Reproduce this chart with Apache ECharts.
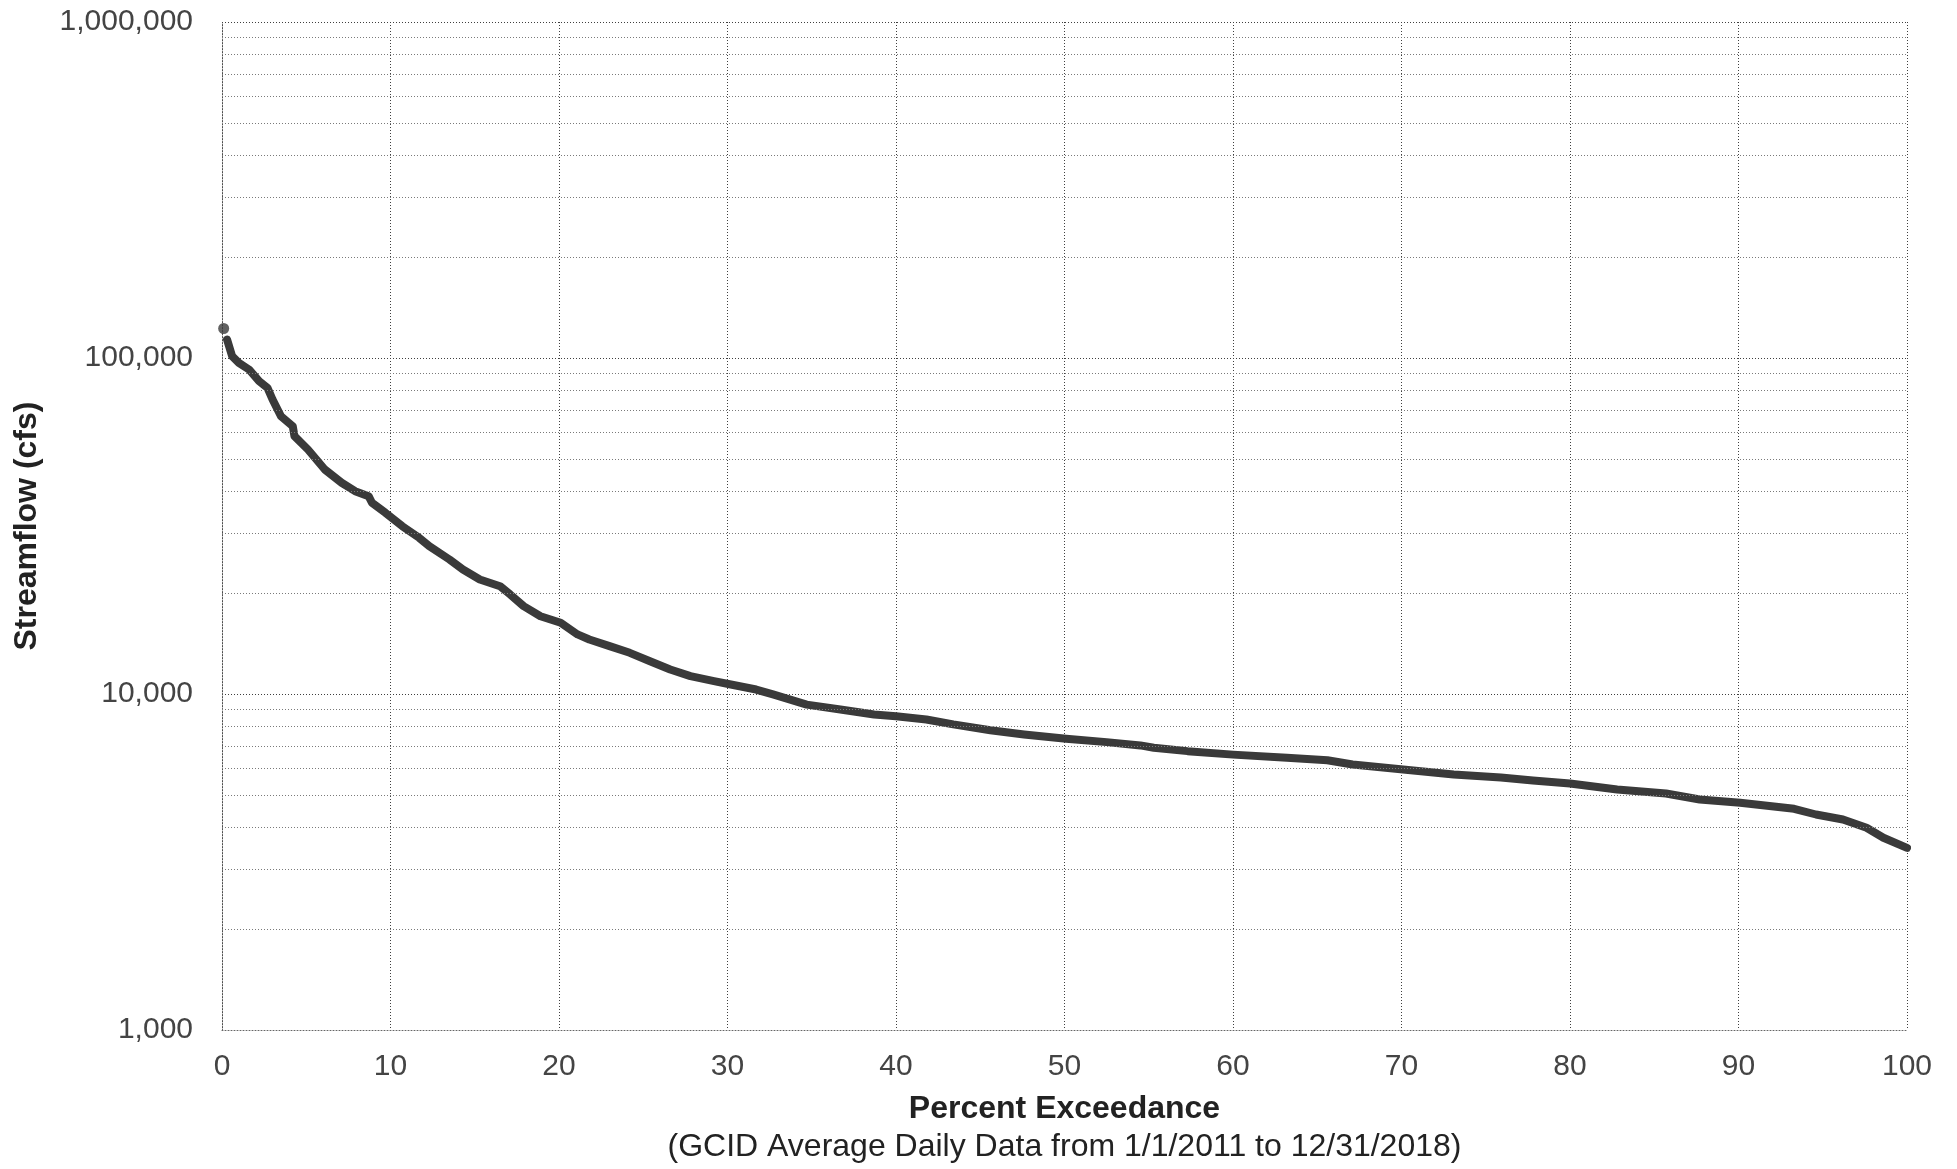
<!DOCTYPE html>
<html>
<head>
<meta charset="utf-8">
<title>Streamflow Exceedance</title>
<script src="https://cdn.jsdelivr.net/npm/echarts@6/dist/echarts.min.js"></script>
<style>
  html, body { margin: 0; padding: 0; background: #ffffff; }
  #chart { width: 1957px; height: 1169px; }
</style>
</head>
<body>
<div id="chart"></div>
<script>
// Flow-duration curve: percent of days a given daily flow is exceeded
const exceedance = [
  0.3, 0.6, 1.0, 1.6, 2.2, 2.7, 3.0, 3.5, 4.2, 4.3, 5.1, 6.1, 7.1, 7.9, 8.7, 8.9, 9.7,
  10.7, 11.7, 12.3, 13.5, 14.3, 15.3, 16.5, 17.1, 17.9, 18.9, 20.1, 21.1, 21.8, 23.0,
  24.2, 25.4, 26.6, 27.8, 29.2, 30.2, 31.7, 32.7, 34.7, 36.7, 38.7, 40.0, 41.8, 43.4,
  45.6, 47.6, 50.1, 52.5, 54.5, 55.3, 57.3, 60.0, 63.2, 65.6, 67.1, 70.1, 73.1, 75.9,
  77.8, 80.0, 82.8, 85.7, 87.7, 90.1, 93.3, 94.6, 96.2, 97.6, 98.6, 100.0
];
const streamflow = [
  113500, 101250, 96760, 92430, 85310, 81530, 75260, 67110, 62660, 58520, 53420, 46580,
  42530, 40140, 38800, 37070, 34620, 31580, 29160, 27540, 25140, 23470, 21920, 20930,
  19780, 18260, 17040, 16290, 15040, 14530, 13880, 13260, 12520, 11830, 11300, 10920,
  10670, 10310, 9970, 9300, 8990, 8690, 8590, 8400, 8120, 7800, 7580, 7360, 7190, 7030,
  6920, 6760, 6600, 6460, 6350, 6170, 5960, 5760, 5640, 5530, 5415, 5200, 5055, 4855,
  4745, 4553, 4379, 4231, 3998, 3733, 3485
];
// Highest recorded daily flow, plotted as a lone point
const peakExceedance = [0.1];
const peakFlow = [122400];

// Axis ranges and labels
const xTicks = [0, 10, 20, 30, 40, 50, 60, 70, 80, 90, 100];
const yDecades = [1000, 10000, 100000, 1000000];
const xTitle = 'Percent Exceedance';
const xSubtitle = '(GCID Average Daily Data from 1/1/2011 to 12/31/2018)';
const yTitle = 'Streamflow (cfs)';

// Intermediate log gridlines (2..9 within each decade)
const minorGrid = [];
yDecades.slice(0, -1).forEach(d => {
  for (let k = 2; k <= 9; k++) minorGrid.push(d * k);
});

const FONT = '"Liberation Sans", Arial, sans-serif';
const curveColor = '#3a3a3a';

const chart = echarts.init(document.getElementById('chart'), null, { renderer: 'canvas' });

chart.setOption({
  animation: false,
  backgroundColor: '#ffffff',
  grid: { left: 222, right: 50, top: 22, bottom: 139, containLabel: false },
  xAxis: {
    type: 'value',
    min: xTicks[0],
    max: xTicks[xTicks.length - 1],
    interval: 10,
    axisLine: { show: true, lineStyle: { color: '#666', width: 1, type: [1, 2] } },
    axisTick: { show: false },
    axisLabel: {
      margin: 22,
      fontFamily: FONT, fontSize: 30, color: '#444', lineHeight: 30
    },
    splitLine: { show: true, lineStyle: { color: '#3f3f3f', width: 1, type: [1, 2] } },
    name: '{t|' + xTitle + '}\n{s|' + xSubtitle + '}',
    nameLocation: 'middle',
    nameGap: 60,
    nameTextStyle: {
      rich: {
        t: { fontFamily: FONT, fontSize: 32, fontWeight: 'bold', color: '#222', lineHeight: 38, align: 'center' },
        s: { fontFamily: FONT, fontSize: 32, color: '#222', lineHeight: 38, align: 'center' }
      }
    }
  },
  yAxis: {
    type: 'log',
    logBase: 10,
    min: yDecades[0],
    max: yDecades[yDecades.length - 1],
    axisLine: { show: true, lineStyle: { color: '#666', width: 1, type: [1, 2] } },
    axisTick: { show: false },
    axisLabel: {
      margin: 29,
      fontFamily: FONT, fontSize: 30, color: '#444',
      formatter: v => Math.round(v).toLocaleString('en-US')
    },
    splitLine: { show: true, lineStyle: { color: '#3f3f3f', width: 1, type: [1, 2] } },
    name: yTitle,
    nameLocation: 'middle',
    nameRotate: 90,
    nameGap: 179,
    nameTextStyle: { fontFamily: FONT, fontSize: 32, fontWeight: 'bold', color: '#222' }
  },
  series: [
    {
      // carries the minor horizontal gridlines
      type: 'line',
      data: [],
      z: 1,
      silent: true,
      markLine: {
        silent: true,
        symbol: 'none',
        label: { show: false },
        lineStyle: { color: '#7a7a7a', width: 1, type: [1, 2] },
        data: minorGrid.map(v => ({ yAxis: v }))
      }
    },
    {
      type: 'line',
      z: 3,
      data: exceedance.map((p, i) => [p, streamflow[i]]),
      showSymbol: false,
      smooth: false,
      lineStyle: { color: curveColor, width: 8, cap: 'round', join: 'round' }
    },
    {
      type: 'scatter',
      z: 3,
      data: peakExceedance.map((p, i) => [p, peakFlow[i]]),
      symbol: 'circle',
      symbolSize: 11,
      itemStyle: { color: curveColor }
    }
  ]
});
</script>
</body>
</html>
